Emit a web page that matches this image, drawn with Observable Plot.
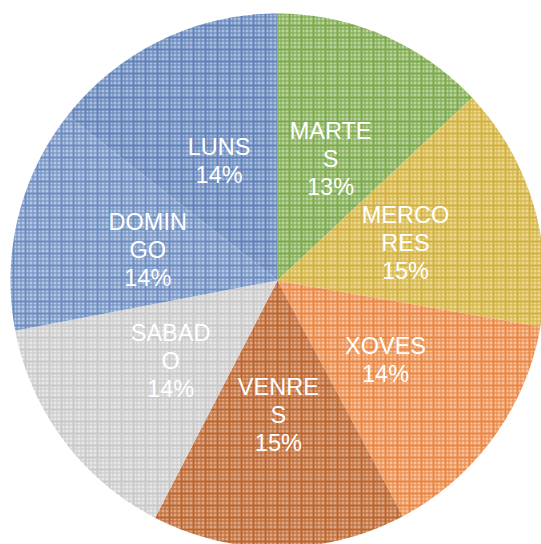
<!DOCTYPE html>
<html>
<head>
<meta charset="utf-8">
<script src="https://cdn.jsdelivr.net/npm/d3@7"></script>
<script src="https://cdn.jsdelivr.net/npm/@observablehq/plot@0.6"></script>
<style>
  html, body { margin: 0; padding: 0; background: #ffffff; }
  #chart svg { display: block; }
</style>
</head>
<body>
<div id="chart"></div>
<script>
// Data (clockwise from 12 o'clock)
const days = ["MARTES", "MERCORES", "XOVES", "VENRES", "SABADO", "DOMINGO", "LUNS"];
const shares = [13.0, 14.75, 14.45, 15.35, 14.4, 13.6, 14.4];
const lineColors = ["#7aa84a", "#d2b040", "#ea8442", "#bb652e", "#c8c8c8", "#6a8bbf", "#5f81b8"];
const bgColors   = ["#bad49d", "#ebd991", "#f7c49c", "#dea886", "#e8e8e8", "#b5c7e3", "#abbedd"];

const total = d3.sum(shares);
let acc = 0;
const slices = days.map((name, i) => {
  const a0 = acc / total * 2 * Math.PI;
  acc += shares[i];
  const a1 = acc / total * 2 * Math.PI;
  return {name, a0, a1, pct: Math.round(shares[i] / total * 100)};
});

// polygon points of each slice
const pts = [];
for (const s of slices) {
  pts.push({name: s.name, x: 0, y: 0});
  const n = 80;
  for (let k = 0; k <= n; k++) {
    const a = s.a0 + (s.a1 - s.a0) * k / n;
    pts.push({name: s.name, x: Math.sin(a), y: Math.cos(a)});
  }
  pts.push({name: s.name, x: 0, y: 0});
}

// label: name wrapped into 5-char chunks + percentage
const labels = slices.map(s => {
  const m = (s.a0 + s.a1) / 2;
  const chunks = s.name.match(/.{1,5}/g);
  return {x: 0.5 * Math.sin(m), y: 0.5 * Math.cos(m), text: chunks.join("\n") + "\n" + s.pct + "%"};
});

const chart = Plot.plot({
  width: 541,
  height: 544,
  margin: 0,
  x: {domain: [-1, 1], range: [10, 544], axis: null},
  y: {domain: [-1, 1], range: [547, 13], axis: null},
  color: {domain: days, range: days.map((d, i) => `url(#pat${i})`)},
  style: {background: "#ffffff"},
  marks: [
    Plot.line(pts, {x: "x", y: "y", z: "name", fill: "name", stroke: "none", curve: "linear"}),
    Plot.text(labels, {
      x: "x", y: "y", text: "text",
      fill: "#ffffff", fontSize: 23.5, lineHeight: 1.19,
      fontFamily: "Liberation Sans, Arial, sans-serif"
    })
  ]
});

// plaid patterns
const ns = "http://www.w3.org/2000/svg";
const defs = document.createElementNS(ns, "defs");
days.forEach((d, i) => {
  const p = document.createElementNS(ns, "pattern");
  p.setAttribute("id", `pat${i}`);
  p.setAttribute("patternUnits", "userSpaceOnUse");
  p.setAttribute("width", 12);
  p.setAttribute("height", 12);
  const bg = document.createElementNS(ns, "rect");
  bg.setAttribute("width", 12); bg.setAttribute("height", 12);
  bg.setAttribute("fill", bgColors[i]);
  p.appendChild(bg);
  const lines = [[0, 2], [4, 1], [8, 1]];
  for (const [o, w] of lines) {
    const v = document.createElementNS(ns, "rect");
    v.setAttribute("x", o); v.setAttribute("y", 0);
    v.setAttribute("width", w); v.setAttribute("height", 12);
    v.setAttribute("fill", lineColors[i]);
    p.appendChild(v);
    const h = document.createElementNS(ns, "rect");
    h.setAttribute("x", 0); h.setAttribute("y", o);
    h.setAttribute("width", 12); h.setAttribute("height", w);
    h.setAttribute("fill", lineColors[i]);
    p.appendChild(h);
  }
  defs.appendChild(p);
});
chart.insertBefore(defs, chart.firstChild);

document.getElementById("chart").appendChild(chart);
</script>
</body>
</html>
